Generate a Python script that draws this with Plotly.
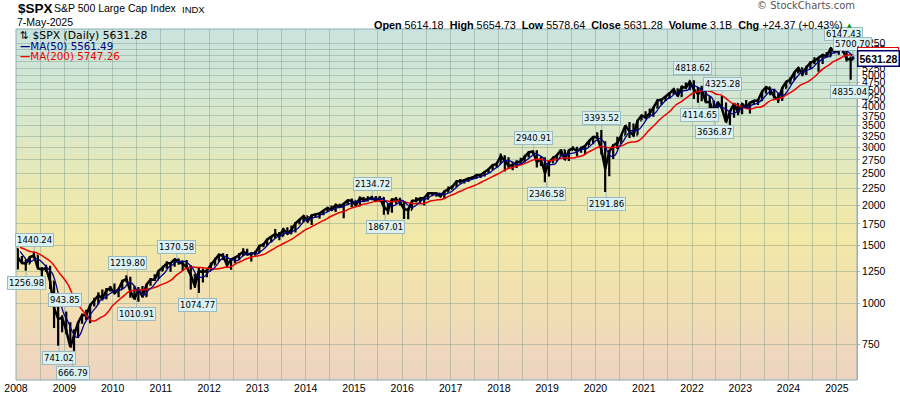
import numpy as np
import pandas as pd
import plotly.graph_objects as go

first_month = "2008-01-01"
last_date = "2025-05-07"

# closes Apr-Dec 2007 (only used to seed the moving averages)
prior_close_2007 = [1482.37, 1530.62, 1503.35, 1455.27, 1473.99, 1526.75, 1549.38, 1481.14, 1468.36]

monthly_close = [
    1378.55, 1330.63, 1322.70, 1385.59, 1400.38, 1280.00, 1267.38, 1282.83, 1166.36, 968.75, 896.24, 903.25,
    825.88, 735.09, 797.87, 872.81, 919.14, 919.32, 987.48, 1020.62, 1057.08, 1036.19, 1095.63, 1115.10,
    1073.87, 1104.49, 1169.43, 1186.69, 1089.41, 1030.71, 1101.60, 1049.33, 1141.20, 1183.26, 1180.55, 1257.64,
    1286.12, 1327.22, 1325.83, 1363.61, 1345.20, 1320.64, 1292.28, 1218.89, 1131.42, 1253.30, 1246.96, 1257.60,
    1312.41, 1365.68, 1408.47, 1397.91, 1310.33, 1362.16, 1379.32, 1406.58, 1440.67, 1412.16, 1416.18, 1426.19,
    1498.11, 1514.68, 1569.19, 1597.57, 1630.74, 1606.28, 1685.73, 1632.97, 1681.55, 1756.54, 1805.81, 1848.36,
    1782.59, 1859.45, 1872.34, 1883.95, 1923.57, 1960.23, 1930.67, 2003.37, 1972.29, 2018.05, 2067.56, 2058.90,
    1994.99, 2104.50, 2067.89, 2085.51, 2107.39, 2063.11, 2103.84, 1972.18, 1920.03, 2079.36, 2080.41, 2043.94,
    1940.24, 1932.23, 2059.74, 2065.30, 2096.95, 2098.86, 2173.60, 2170.95, 2168.27, 2126.15, 2198.81, 2238.83,
    2278.87, 2363.64, 2362.72, 2384.20, 2411.80, 2423.41, 2470.30, 2471.65, 2519.36, 2575.26, 2647.58, 2673.61,
    2823.81, 2713.83, 2640.87, 2648.05, 2705.27, 2718.37, 2816.29, 2901.52, 2913.98, 2711.74, 2760.17, 2506.85,
    2704.10, 2784.49, 2834.40, 2945.83, 2752.06, 2941.76, 2980.38, 2926.46, 2976.74, 3037.56, 3140.98, 3230.78,
    3225.52, 2954.22, 2584.59, 2912.43, 3044.31, 3100.29, 3271.12, 3500.31, 3363.00, 3269.96, 3621.63, 3756.07,
    3714.24, 3811.15, 3972.89, 4181.17, 4204.11, 4297.50, 4395.26, 4522.68, 4307.54, 4605.38, 4567.00, 4766.18,
    4515.55, 4373.94, 4530.41, 4131.93, 4132.15, 3785.38, 4130.29, 3955.00, 3585.62, 3871.98, 4080.11, 3839.50,
    4076.60, 3970.15, 4109.31, 4169.48, 4179.83, 4450.38, 4588.96, 4507.66, 4288.05, 4193.80, 4567.80, 4769.83,
    4845.65, 5096.27, 5254.35, 5035.69, 5277.51, 5460.48, 5522.30, 5648.40, 5762.48, 5705.45, 6032.38, 5881.63,
    6040.53, 5954.50, 5611.85, 5569.06, 5631.28,
]

monthly_high = [
    1471.8, 1396.0, 1359.7, 1397.0, 1440.24, 1404.1, 1292.2, 1313.2, 1303.0, 1167.0, 1007.5, 918.9,
    943.85, 875.0, 833.0, 877.0, 930.2, 956.2, 996.7, 1039.5, 1080.2, 1101.4, 1113.7, 1130.4,
    1150.4, 1112.4, 1180.2, 1219.80, 1205.1, 1131.2, 1120.9, 1129.2, 1148.7, 1196.1, 1227.1, 1262.6,
    1302.7, 1344.1, 1332.3, 1364.6, 1370.58, 1345.2, 1356.5, 1307.4, 1229.3, 1292.7, 1277.6, 1269.4,
    1333.5, 1378.0, 1419.2, 1422.4, 1415.3, 1363.5, 1392.0, 1426.7, 1474.5, 1470.0, 1434.3, 1448.0,
    1509.9, 1530.9, 1570.3, 1597.6, 1687.2, 1654.2, 1698.8, 1709.7, 1730.0, 1775.2, 1813.6, 1849.4,
    1850.8, 1867.9, 1883.9, 1897.3, 1924.0, 1968.2, 1991.4, 2005.0, 2019.3, 2018.2, 2075.8, 2093.6,
    2064.4, 2119.6, 2114.9, 2125.9, 2134.72, 2129.9, 2132.8, 2112.7, 2020.9, 2094.3, 2116.5, 2104.3,
    2038.2, 1962.9, 2072.2, 2111.1, 2103.5, 2120.6, 2177.1, 2193.8, 2187.9, 2169.6, 2214.1, 2277.5,
    2301.0, 2371.5, 2401.0, 2398.2, 2418.7, 2453.8, 2484.0, 2490.9, 2519.4, 2583.0, 2657.7, 2695.0,
    2872.9, 2836.0, 2801.9, 2717.5, 2742.2, 2791.5, 2848.0, 2916.5, 2940.91, 2939.9, 2815.2, 2800.2,
    2709.0, 2813.5, 2860.3, 2949.5, 2954.1, 2964.2, 3028.0, 3013.6, 3022.0, 3050.1, 3154.3, 3247.9,
    3337.8, 3393.52, 3136.7, 2954.9, 3068.7, 3233.1, 3280.0, 3514.8, 3588.1, 3549.9, 3646.0, 3760.2,
    3870.9, 3950.4, 3983.9, 4218.8, 4238.0, 4302.4, 4430.0, 4537.4, 4545.9, 4608.1, 4743.8, 4808.9,
    4818.62, 4595.3, 4637.3, 4593.5, 4307.7, 4177.5, 4140.2, 4325.28, 4119.3, 3905.4, 4080.1, 4101.0,
    4095.4, 4195.4, 4110.8, 4170.1, 4231.1, 4458.5, 4607.1, 4584.6, 4541.3, 4393.6, 4587.6, 4793.3,
    4931.1, 5111.1, 5264.9, 5264.0, 5341.9, 5505.5, 5669.7, 5651.6, 5767.4, 5878.5, 6044.2, 6100.0,
    6128.2, 6147.43, 5986.1, 5695.3, 5700.70,
]

monthly_low = [
    1270.1, 1316.8, 1256.98, 1324.4, 1373.1, 1272.0, 1200.4, 1247.4, 1106.4, 839.8, 741.02, 815.7,
    804.3, 734.5, 666.79, 783.3, 866.1, 888.9, 869.3, 978.5, 991.0, 1019.9, 1029.4, 1085.9,
    1071.6, 1044.5, 1105.4, 1170.7, 1040.8, 1028.3, 1010.91, 1040.8, 1048.1, 1131.9, 1173.0, 1186.6,
    1256.0, 1282.9, 1249.1, 1294.7, 1311.8, 1258.1, 1282.9, 1101.5, 1114.2, 1074.77, 1158.7, 1202.4,
    1258.9, 1312.0, 1340.0, 1357.4, 1291.9, 1266.7, 1325.4, 1354.7, 1396.6, 1403.3, 1343.4, 1398.1,
    1426.2, 1485.0, 1501.5, 1536.0, 1581.3, 1560.3, 1604.6, 1627.5, 1633.4, 1646.5, 1746.2, 1767.6,
    1770.5, 1737.9, 1834.4, 1814.4, 1859.8, 1915.0, 1930.0, 1904.8, 1964.0, 1820.7, 2001.0, 1972.6,
    1988.1, 1980.9, 2039.7, 2048.4, 2067.9, 2056.3, 2044.0, 1867.01, 1871.9, 1893.7, 2019.4, 1993.3,
    1812.3, 1810.1, 1937.1, 2033.8, 2025.9, 1991.7, 2074.0, 2147.6, 2119.1, 2114.7, 2083.8, 2187.4,
    2245.1, 2267.9, 2322.3, 2329.0, 2352.7, 2405.7, 2407.7, 2417.4, 2446.6, 2520.4, 2557.5, 2605.5,
    2682.4, 2532.7, 2585.9, 2553.8, 2594.6, 2692.0, 2699.0, 2796.3, 2864.1, 2603.5, 2631.1, 2346.58,
    2444.0, 2681.8, 2722.3, 2848.6, 2750.5, 2728.8, 2952.2, 2822.1, 2891.9, 2855.9, 3050.7, 3070.3,
    3214.6, 2855.8, 2191.86, 2447.5, 2766.6, 2965.7, 3115.0, 3284.5, 3209.5, 3233.9, 3279.7, 3633.4,
    3662.7, 3725.6, 3723.3, 3955.5, 4056.9, 4164.4, 4233.1, 4367.7, 4305.9, 4278.9, 4560.0, 4495.1,
    4222.6, 4114.65, 4157.9, 4124.3, 3810.3, 3636.87, 3721.6, 3954.5, 3584.1, 3491.6, 3698.2, 3764.5,
    3794.3, 3943.1, 3808.9, 4049.4, 4048.3, 4166.2, 4385.1, 4335.3, 4238.6, 4103.8, 4167.2, 4546.5,
    4682.1, 4845.2, 5056.8, 4953.6, 5011.1, 5234.3, 5391.0, 5119.3, 5402.6, 5674.0, 5696.5, 5832.3,
    5773.3, 5837.7, 5504.7, 4835.04, 5578.6,
]

# labelled highs / lows
callout_dates = ["2008-05-19", "2008-03-17", "2009-01-06", "2008-11-20", "2009-03-06",
                 "2010-04-23", "2010-07-01", "2011-05-02", "2011-10-04", "2015-05-20",
                 "2015-08-24", "2018-09-21", "2018-12-26", "2020-02-19", "2020-03-23",
                 "2022-01-04", "2022-02-24", "2022-08-16", "2022-06-17", "2025-02-19",
                 "2025-05-02", "2025-04-07"]
callout_values = [1440.24, 1256.98, 943.85, 741.02, 666.79,
                  1219.80, 1010.91, 1370.58, 1074.77, 2134.72,
                  1867.01, 2940.91, 2346.58, 3393.52, 2191.86,
                  4818.62, 4114.65, 4325.28, 3636.87, 6147.43,
                  5700.70, 4835.04]
callout_sides = ["above", "below", "above", "below", "below",
                 "above", "below", "above", "below", "above",
                 "below", "above", "below", "above", "below",
                 "above", "below", "above", "below", "above",
                 "above", "below"]

y_tick_values = [750, 1000, 1250, 1500, 1750, 2000, 2250, 2500, 2750, 3000, 3250, 3500,
                 3750, 4000, 4250, 4500, 4750, 5000, 5250, 5500, 5750, 6000, 6250]
x_tick_years = [2008, 2009, 2010, 2011, 2012, 2013, 2014, 2015, 2016, 2017, 2018, 2019,
                2020, 2021, 2022, 2023, 2024, 2025]

last_open, last_high, last_low, last_close = 5614.18, 5654.73, 5578.64, 5631.28
last_volume, last_chg, last_chg_pct = "3.1B", 24.37, 0.43
ma50_last, ma200_last = 5561.49, 5747.26

# ---------------- derived ----------------
months = pd.date_range(first_month, periods=len(monthly_close), freq="MS")
bar_x = list(months + pd.Timedelta(days=14))
bar_x[-1] = months[-1] + (pd.Timestamp(last_date) - months[-1]) / 2
month_end = list(months + pd.offsets.MonthEnd(0))
month_end[-1] = pd.Timestamp(last_date)
monthly_open = [prior_close_2007[-1]] + monthly_close[:-1]

all_close = pd.Series(prior_close_2007 + monthly_close)
n0 = len(prior_close_2007)
ma50 = all_close.rolling(3).mean().iloc[n0:].to_numpy()
ma200 = all_close.rolling(10).mean().iloc[n0:].to_numpy()

# ---------------- layout geometry (pixels) ----------------
W, H = 900, 396
PL, PR, PT, PB = 16, 857, 29, 380
def xp(px): return (px - PL) / (PR - PL)
def yp(py): return (PB - py) / (PB - PT)

fig = go.Figure()

# continuous body of the price band (monthly closes) + monthly high/low bars
fig.add_trace(go.Scatter(x=bar_x, y=monthly_close, mode="lines",
                         line=dict(color="black", width=2.5), hoverinfo="skip", showlegend=False))
fig.add_trace(go.Ohlc(
    x=bar_x, open=monthly_open, high=monthly_high, low=monthly_low, close=monthly_close,
    increasing=dict(line=dict(color="black", width=2.2)),
    decreasing=dict(line=dict(color="black", width=2.2)),
    tickwidth=0.5, hoverinfo="skip", showlegend=False))
fig.add_trace(go.Scatter(x=month_end, y=ma200, mode="lines",
                         line=dict(color="#ee0000", width=1.5, shape="spline", smoothing=0.6),
                         hoverinfo="skip", showlegend=False))
fig.add_trace(go.Scatter(x=month_end, y=ma50, mode="lines",
                         line=dict(color="#00008b", width=1.3, shape="spline", smoothing=0.6),
                         hoverinfo="skip", showlegend=False))

# gradient background
stops = [(0.00, (202, 227, 222)), (0.25, (216, 232, 205)), (0.45, (234, 233, 180)),
         (0.60, (242, 232, 168)), (0.80, (242, 222, 180)), (1.00, (236, 211, 193))]
def grad(f):
    for (f0, c0), (f1, c1) in zip(stops[:-1], stops[1:]):
        if f0 <= f <= f1:
            t = (f - f0) / (f1 - f0)
            return tuple(int(round(a + (b - a) * t)) for a, b in zip(c0, c1))
    return stops[-1][1]
N = 117
shapes = []
for i in range(N):
    c = grad((i + 0.5) / N)
    shapes.append(dict(type="rect", xref="paper", yref="paper", x0=0, x1=1,
                       y0=1 - (i + 1) / N - 0.001, y1=1 - i / N, layer="below",
                       fillcolor=f"rgb{c}", line=dict(width=0)))
shapes.append(dict(type="rect", xref="paper", yref="paper", x0=0, x1=1, y0=0, y1=1,
                   layer="above", line=dict(color="#8eb0b4", width=1), fillcolor="rgba(0,0,0,0)"))

grid_col = "rgba(105,145,125,0.38)"
ann = []
for d, v, side in zip(callout_dates, callout_values, callout_sides):
    ann.append(dict(x=d, y=np.log10(v), xref="x", yref="y", text=f"{v:.2f}",
                    showarrow=True, arrowhead=0, arrowwidth=1, arrowcolor="#9bb9c0",
                    ax=0, ay=-12 if side == "above" else 12,
                    bgcolor="#dcf2f2", bordercolor="#9bb9c0", borderwidth=1, borderpad=1,
                    font=dict(family="DejaVu Sans", size=8.5, color="black")))

# right-edge value tags
ann.append(dict(x=1, y=np.log10(ma200_last), xref="paper", yref="y", xanchor="left", yanchor="middle",
                text=f"<b>{ma200_last:.2f}</b>", showarrow=False, bgcolor="white",
                bordercolor="#ee0000", borderwidth=1, borderpad=1,
                font=dict(family="Liberation Sans", size=10.5, color="#ee0000")))
ann.append(dict(x=1, y=np.log10(last_close), xref="paper", yref="y", xanchor="left", yanchor="middle",
                text=f"<b>{last_close:.2f}</b>", showarrow=False, bgcolor="white",
                bordercolor="#00006e", borderwidth=1.5, borderpad=1,
                font=dict(family="Liberation Sans", size=10.5, color="black")))

# header
ann.append(dict(x=xp(16), y=yp(8.5), xref="paper", yref="paper", xanchor="left", yanchor="middle",
                text="<b>$SPX</b>", showarrow=False,
                font=dict(family="Liberation Sans", size=13.5, color="black")))
ann.append(dict(x=xp(52), y=yp(8.5), xref="paper", yref="paper", xanchor="left", yanchor="middle",
                text="S&P 500 Large Cap Index", showarrow=False,
                font=dict(family="Liberation Sans", size=10.5, color="black")))
ann.append(dict(x=xp(180), y=yp(9), xref="paper", yref="paper", xanchor="left", yanchor="middle",
                text="INDX", showarrow=False,
                font=dict(family="Liberation Sans", size=9.5, color="black")))
ann.append(dict(x=xp(15), y=yp(22), xref="paper", yref="paper", xanchor="left", yanchor="middle",
                text="7-May-2025", showarrow=False,
                font=dict(family="Liberation Sans", size=10.5, color="black")))
sp = "\u00a0"
info = (f"<b>Open</b> {last_open:.2f}{sp}{sp}<b>High</b> {last_high:.2f}{sp}{sp}"
        f"<b>Low</b> {last_low:.2f}{sp}{sp}<b>Close</b> {last_close:.2f}{sp}{sp}"
        f"<b>Volume</b> {last_volume}{sp}{sp}<b>Chg</b> +{last_chg:.2f} (+{last_chg_pct:.2f}%)")
ann.append(dict(x=xp(845), y=yp(24.5), xref="paper", yref="paper", xanchor="right", yanchor="middle",
                text=info, showarrow=False,
                font=dict(family="Liberation Sans", size=10.8, color="black")))
ann.append(dict(x=xp(845), y=yp(25), xref="paper", yref="paper", xanchor="left", yanchor="middle",
                text="▲", showarrow=False, font=dict(family="DejaVu Sans", size=6, color="#109010")))
ann.append(dict(x=xp(857), y=yp(5), xref="paper", yref="paper", xanchor="right", yanchor="middle",
                text="© StockCharts.com", showarrow=False,
                font=dict(family="DejaVu Sans", size=10, color="#555555")))

# legend
ann.append(dict(x=xp(18), y=yp(35), xref="paper", yref="paper", xanchor="left", yanchor="middle",
                text=f"⇅ $SPX (Daily) {last_close:.2f}", showarrow=False,
                font=dict(family="DejaVu Sans", size=10.8, color="black")))
ann.append(dict(x=xp(18), y=yp(46), xref="paper", yref="paper", xanchor="left", yanchor="middle",
                text=f"<b>—</b>MA(50) {ma50_last:.2f}", showarrow=False,
                font=dict(family="DejaVu Sans", size=10.3, color="#00008b")))
ann.append(dict(x=xp(18), y=yp(56.5), xref="paper", yref="paper", xanchor="left", yanchor="middle",
                text=f"<b>—</b>MA(200) {ma200_last:.2f}", showarrow=False,
                font=dict(family="DejaVu Sans", size=10.3, color="#ee0000")))

ylo, yhi = 2.7652, 3.8399
fig.update_layout(
    width=W, height=H, margin=dict(l=PL, r=W - PR, t=PT, b=H - PB, autoexpand=False),
    paper_bgcolor="white", plot_bgcolor="rgba(0,0,0,0)",
    shapes=shapes, annotations=ann, showlegend=False,
    xaxis=dict(type="date", range=["2008-01-01", "2025-06-02"], automargin=False,
               tickvals=[f"{y}-01-01" for y in x_tick_years], ticktext=[str(y) for y in x_tick_years],
               showgrid=True, gridcolor=grid_col, gridwidth=1, ticks="", zeroline=False,
               tickfont=dict(family="Liberation Sans", size=10.5, color="black"),
               rangeslider=dict(visible=False), showline=False,
               minor=dict(tickmode="linear", tick0="2008-07-01", dtick="M12", showgrid=True,
                          gridcolor=grid_col, gridwidth=1)),
    yaxis=dict(type="log", side="right", range=[ylo, yhi], automargin=False,
               tickvals=y_tick_values, ticktext=[str(v) for v in y_tick_values],
               showgrid=True, gridcolor=grid_col, gridwidth=1, zeroline=False,
               ticks="outside", ticklen=2, tickcolor="#9ab4b8",
               showline=True, linecolor="#9ab4b8",
               tickfont=dict(family="Liberation Sans", size=10.5, color="black")),
)

fig.write_html("out.html", config={"displayModeBar": False, "staticPlot": True},
               post_script="document.body.style.margin='0';document.body.style.overflow='hidden';")
